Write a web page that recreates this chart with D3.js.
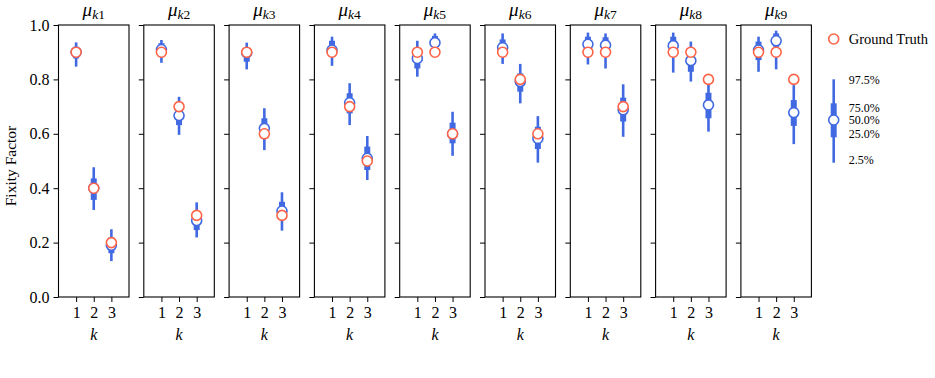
<!DOCTYPE html>
<html>
<head>
<meta charset="utf-8">
<script src="https://cdn.jsdelivr.net/npm/d3@7"></script>
<style>
  body { margin: 0; background: #fff; }
  svg, svg text { font-family: "Liberation Serif", "Times New Roman", serif; }
</style>
</head>
<body>
<div id="chart"></div>
<script>
// Data: one row per panel (mu_k1 .. mu_k9), one value per k = 1, 2, 3
const panelIds = ["1", "2", "3", "4", "5", "6", "7", "8", "9"];
const kValues = [1, 2, 3];
const q025 = [
    [0.847, 0.320, 0.132], [0.861, 0.596, 0.219], [0.837, 0.540, 0.244],
    [0.850, 0.632, 0.430], [0.810, 0.910, 0.519], [0.857, 0.712, 0.494],
    [0.855, 0.840, 0.589], [0.825, 0.792, 0.608], [0.828, 0.837, 0.562]
];
const q25 = [
    [0.877, 0.357, 0.161], [0.883, 0.632, 0.246], [0.865, 0.608, 0.283],
    [0.883, 0.675, 0.467], [0.840, 0.920, 0.565], [0.896, 0.755, 0.544],
    [0.908, 0.908, 0.645], [0.908, 0.828, 0.657], [0.871, 0.920, 0.629]
];
const q50 = [
    [0.900, 0.400, 0.190], [0.910, 0.667, 0.281], [0.898, 0.620, 0.316],
    [0.908, 0.714, 0.510], [0.877, 0.935, 0.600], [0.917, 0.792, 0.583],
    [0.929, 0.926, 0.688], [0.924, 0.869, 0.706], [0.908, 0.942, 0.678]
];
const q75 = [
    [0.920, 0.436, 0.219], [0.933, 0.687, 0.308], [0.914, 0.657, 0.350],
    [0.942, 0.749, 0.553], [0.890, 0.960, 0.641], [0.947, 0.822, 0.626],
    [0.957, 0.955, 0.733], [0.957, 0.890, 0.751], [0.939, 0.969, 0.724]
];
const q975 = [
    [0.936, 0.477, 0.249], [0.945, 0.736, 0.348], [0.935, 0.694, 0.385],
    [0.957, 0.786, 0.592], [0.942, 0.969, 0.681], [0.969, 0.857, 0.665],
    [0.972, 0.969, 0.782], [0.972, 0.939, 0.790], [0.957, 0.979, 0.779]
];
const groundTruth = [
    [0.9, 0.4, 0.2], [0.9, 0.7, 0.3], [0.9, 0.6, 0.3],
    [0.9, 0.7, 0.5], [0.9, 0.9, 0.6], [0.9, 0.8, 0.6],
    [0.9, 0.9, 0.7], [0.9, 0.9, 0.8], [0.9, 0.9, 0.8]
];
const yTicks = [0, 0.2, 0.4, 0.6, 0.8, 1.0];
const legendLabels = ["97.5%", "75.0%", "50.0%", "25.0%", "2.5%"];

const blue = "#4169e1";
const orange = "#ff6347";
const serif = "'Liberation Serif', 'Times New Roman', serif";

const width = 935, height = 378;
const plotTop = 25, plotBottom = 297;
const left0 = 58.5, step = 85.3, panelW = 70.5;

const svg = d3.select("#chart")
    .append("svg")
    .attr("width", width)
    .attr("height", height);

const y = d3.scaleLinear().domain([0, 1]).range([plotBottom, plotTop]);
const x = d3.scaleLinear().domain([0, 4]).range([0, panelW]);

panelIds.forEach((id, p) => {
    const g = svg.append("g")
        .attr("transform", `translate(${left0 + p * step},0)`);

    // Axes
    const yAxis = g.append("g")
        .call(d3.axisLeft(y).tickValues(yTicks).tickSize(5).tickPadding(4)
            .tickFormat(p === 0 ? d3.format(".1f") : () => ""));
    yAxis.select(".domain").remove();
    yAxis.selectAll("line").attr("stroke", "#000");
    yAxis.selectAll("text")
        .style("font-family", serif)
        .style("font-size", "16px")
        .attr("fill", "#000");

    const xAxis = g.append("g")
        .attr("transform", `translate(0,${plotBottom})`)
        .call(d3.axisBottom(x).tickValues(kValues).tickSize(5).tickPadding(5)
            .tickFormat(d3.format("d")));
    xAxis.select(".domain").remove();
    xAxis.selectAll("line").attr("stroke", "#000");
    xAxis.selectAll("text")
        .style("font-family", serif)
        .style("font-size", "16px")
        .attr("fill", "#000");

    // Points
    const rows = kValues.map((k, i) => ({
        k: k,
        lo: q025[p][i], q1: q25[p][i], med: q50[p][i], q3: q75[p][i], hi: q975[p][i],
        truth: groundTruth[p][i]
    }));

    g.selectAll(".whisker")
        .data(rows)
        .enter().append("line")
        .attr("x1", d => x(d.k)).attr("x2", d => x(d.k))
        .attr("y1", d => y(d.lo)).attr("y2", d => y(d.hi))
        .attr("stroke", blue)
        .attr("stroke-width", 2.6);

    g.selectAll(".box")
        .data(rows)
        .enter().append("line")
        .attr("x1", d => x(d.k)).attr("x2", d => x(d.k))
        .attr("y1", d => y(d.q1)).attr("y2", d => y(d.q3))
        .attr("stroke", blue)
        .attr("stroke-width", 6);

    g.selectAll(".median")
        .data(rows)
        .enter().append("circle")
        .attr("cx", d => x(d.k))
        .attr("cy", d => y(d.med))
        .attr("r", 5)
        .attr("fill", "#fff")
        .attr("stroke", blue)
        .attr("stroke-width", 1.6);

    g.selectAll(".truth")
        .data(rows)
        .enter().append("circle")
        .attr("cx", d => x(d.k))
        .attr("cy", d => y(d.truth))
        .attr("r", 5)
        .attr("fill", "#fff")
        .attr("stroke", orange)
        .attr("stroke-width", 1.6);

    // Frame
    g.append("rect")
        .attr("x", 0).attr("y", plotTop)
        .attr("width", panelW).attr("height", plotBottom - plotTop)
        .attr("fill", "none")
        .attr("stroke", "#000")
        .attr("stroke-width", 1.1);

    // Title
    const title = g.append("text")
        .attr("x", panelW / 2)
        .attr("y", 16)
        .attr("text-anchor", "middle")
        .style("font-size", "19px");
    title.append("tspan").style("font-style", "italic").text("μ");
    title.append("tspan").attr("dy", 3).style("font-size", "13.5px")
        .style("font-style", "italic").text("k");
    title.append("tspan").style("font-size", "13.5px").text(id);

    // x label
    g.append("text")
        .attr("x", panelW / 2)
        .attr("y", 340)
        .attr("text-anchor", "middle")
        .style("font-size", "16px")
        .style("font-style", "italic")
        .text("k");
});

// y label
svg.append("text")
    .attr("transform", `translate(16,${(plotTop + plotBottom) / 2 + 5}) rotate(-90)`)
    .attr("text-anchor", "middle")
    .style("font-size", "15.5px")
    .text("Fixity Factor");

// Legend
const legend = svg.append("g").attr("transform", "translate(833.7,0)");

legend.append("circle")
    .attr("cx", 0).attr("cy", 39).attr("r", 5)
    .attr("fill", "#fff").attr("stroke", orange).attr("stroke-width", 1.6);
legend.append("text")
    .attr("x", 15).attr("y", 44)
    .style("font-size", "14.5px")
    .text("Ground Truth");

legend.append("line")
    .attr("x1", 0).attr("x2", 0).attr("y1", 79.3).attr("y2", 162.7)
    .attr("stroke", blue).attr("stroke-width", 2.6);
legend.append("line")
    .attr("x1", 0).attr("x2", 0).attr("y1", 103.3).attr("y2", 137.3)
    .attr("stroke", blue).attr("stroke-width", 6);
legend.append("circle")
    .attr("cx", 0).attr("cy", 120).attr("r", 5)
    .attr("fill", "#fff").attr("stroke", blue).attr("stroke-width", 1.6);

const labelY = [80, 107.3, 119.8, 133.3, 160];
legend.selectAll(".qlabel")
    .data(legendLabels)
    .enter().append("text")
    .attr("x", 15)
    .attr("y", (d, i) => labelY[i])
    .attr("dy", "0.35em")
    .style("font-size", "12px")
    .text(d => d);
</script>
</body>
</html>
